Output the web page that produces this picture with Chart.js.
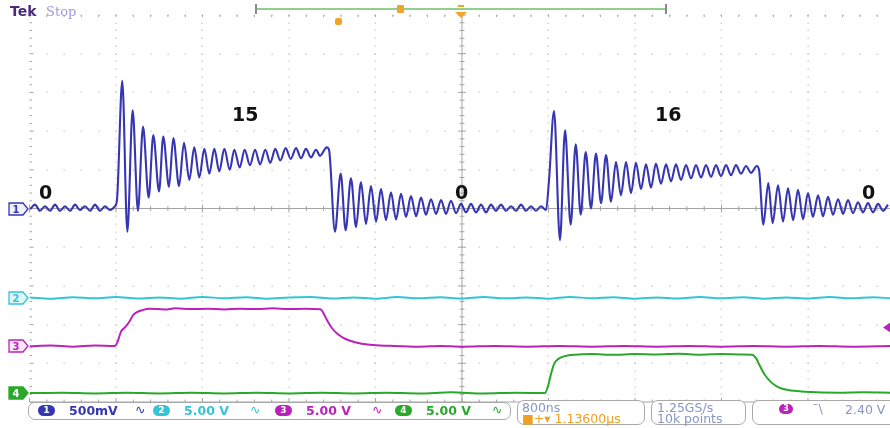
<!DOCTYPE html>
<html>
<head>
<meta charset="utf-8">
<script src="https://cdn.jsdelivr.net/npm/chart.js@4"></script>
<style>
  body { margin: 0; background: #fff; }
  #wrap { position: relative; width: 890px; height: 428px; overflow: hidden; background: #fff; font-family: "DejaVu Sans", sans-serif; }
  #scope { position: absolute; left: 0; top: 0; }
  .t { position: absolute; white-space: nowrap; line-height: 1; }
  .big { font: bold 19px "DejaVu Sans", sans-serif; color: #111; }
  .box { position: absolute; border: 1.5px solid #a9a9a9; border-radius: 7px; background: #fff; box-sizing: border-box; }
  .pill { position: absolute; width: 17px; height: 11px; border-radius: 6px; color: #fff; font: bold 9px "DejaVu Sans", sans-serif; text-align: center; line-height: 11px; }
  .st { position: absolute; white-space: nowrap; font: bold 12.5px "DejaVu Sans", sans-serif; line-height: 1; }
  .dim { color: #8796c4; font-weight: normal; }
</style>
</head>
<body>
<div id="wrap">
  <canvas id="scope" width="890" height="428"></canvas>
</div>
<script>
// ============================
// DATA
// ============================
const timePerDiv = 0.8;          // µs / div  (800ns)
const chScale = [0.5, 5, 5, 5];  // V / div
const chOffset = [0, -2.31, -3.56, -4.77]; // ground marker, in divisions
const chColor = ["#3636b2", "#35c4d6", "#bb22bb", "#2aa82a"];
const bigLabels = ["0", "15", "0", "16", "0"];

// ch1 [µs, V]
const ch1 = [
  [0.005,-0.01],[0.051,0.05],[0.097,-0.03],[0.143,0.03],[0.190,-0.03],[0.236,0.05],[0.282,-0.03],[0.328,0.03],
  [0.375,-0.03],[0.421,0.05],[0.467,-0.02],[0.513,0.03],[0.560,-0.03],[0.606,0.05],[0.652,-0.03],[0.698,0.03],
  [0.744,-0.02],[0.790,0.03],[0.809,0.11],
  [0.858,1.65],[0.905,-0.30],[0.954,1.27],[1.003,-0.03],[1.050,1.06],[1.102,0.14],[1.145,0.95],[1.198,0.22],
  [1.237,0.93],[1.290,0.28],[1.330,0.91],[1.383,0.29],[1.429,0.85],[1.478,0.37],[1.524,0.79],[1.570,0.40],
  [1.617,0.77],[1.663,0.45],[1.709,0.77],[1.755,0.48],[1.802,0.77],[1.852,0.50],[1.894,0.76],[1.944,0.53],
  [1.990,0.76],[2.039,0.56],[2.086,0.76],[2.132,0.57],[2.181,0.76],[2.227,0.59],[2.273,0.77],[2.320,0.62],
  [2.369,0.78],[2.416,0.64],[2.465,0.78],[2.511,0.65],[2.557,0.77],[2.603,0.66],[2.650,0.76],[2.687,0.68],
  [2.749,0.79],[2.770,0.76],
  [2.825,-0.30],[2.878,0.45],[2.924,-0.28],[2.973,0.39],[3.020,-0.24],[3.066,0.34],[3.112,-0.20],[3.158,0.29],
  [3.205,-0.17],[3.251,0.25],[3.297,-0.15],[3.343,0.21],[3.390,-0.14],[3.436,0.19],[3.482,-0.11],[3.528,0.16],
  [3.575,-0.10],[3.621,0.14],[3.667,-0.08],[3.713,0.12],[3.760,-0.07],[3.806,0.11],[3.852,-0.07],[3.898,0.10],
  [3.945,-0.06],[3.991,0.06],[4.037,-0.05],[4.083,0.06],[4.129,-0.05],[4.176,0.05],[4.222,-0.05],[4.268,0.05],
  [4.314,-0.03],[4.361,0.05],[4.407,-0.03],[4.453,0.03],[4.499,-0.03],[4.546,0.05],[4.592,-0.03],[4.638,0.03],
  [4.684,-0.03],[4.731,0.03],[4.777,-0.02],[4.805,0.37],
  [4.851,1.26],[4.906,-0.41],[4.953,1.01],[5.005,-0.21],[5.052,0.83],[5.098,-0.08],[5.144,0.73],[5.193,0.00],
  [5.239,0.71],[5.286,0.07],[5.332,0.69],[5.378,0.09],[5.424,0.60],[5.470,0.17],[5.517,0.60],[5.563,0.20],
  [5.609,0.59],[5.655,0.25],[5.702,0.57],[5.748,0.27],[5.794,0.58],[5.840,0.32],[5.887,0.57],[5.933,0.35],
  [5.979,0.57],[6.025,0.37],[6.072,0.56],[6.118,0.39],[6.164,0.56],[6.210,0.40],[6.257,0.56],[6.303,0.41],
  [6.349,0.56],[6.395,0.42],[6.442,0.56],[6.488,0.43],[6.534,0.56],[6.580,0.45],[6.627,0.55],[6.673,0.46],
  [6.726,0.55],[6.747,0.50],
  [6.787,-0.21],[6.833,0.33],[6.873,-0.19],[6.923,0.30],[6.969,-0.17],[7.015,0.26],[7.062,-0.15],[7.108,0.24],
  [7.154,-0.14],[7.200,0.20],[7.246,-0.11],[7.293,0.17],[7.339,-0.10],[7.385,0.15],[7.431,-0.08],[7.478,0.12],
  [7.524,-0.07],[7.570,0.11],[7.616,-0.06],[7.663,0.08],[7.709,-0.05],[7.755,0.07],[7.801,-0.05],[7.848,0.06],
  [7.894,-0.03],[7.940,0.05]
];

// ch2 [µs, V] - flat, just noise
const ch2 = [
  [0,0.05],[0.2,-0.1],[0.4,0.08],[0.6,-0.05],[0.8,0.1],[1.0,-0.08],[1.2,0.05],[1.4,-0.1],[1.6,0.12],[1.8,-0.05],
  [2.0,0.08],[2.2,-0.1],[2.4,0.05],[2.6,0.1],[2.8,-0.08],[3.0,0.05],[3.2,-0.1],[3.4,0.1],[3.6,-0.05],[3.8,0.08],
  [4.0,-0.08],[4.2,0.1],[4.4,-0.05],[4.6,0.05],[4.8,-0.1],[5.0,0.12],[5.2,-0.05],[5.4,0.08],[5.6,-0.1],[5.8,0.05],
  [6.0,-0.08],[6.2,0.1],[6.4,-0.05],[6.6,0.08],[6.8,-0.1],[7.0,0.05],[7.2,-0.08],[7.4,0.1],[7.6,-0.05],[7.8,0.08],
  [7.96,-0.05]
];

// ch3 [µs, V]
const ch3 = [
  [0,0],[0.2,0.1],[0.4,-0.05],[0.6,0.1],[0.79,0.05],[0.82,0.8],[0.846,1.9],[0.883,2.45],[0.92,3.1],[0.957,4.0],
  [0.994,4.4],[1.04,4.65],[1.11,4.85],[1.25,4.75],[1.35,4.9],[1.5,4.8],[1.65,4.85],[1.8,4.75],[1.95,4.85],
  [2.1,4.8],[2.25,4.9],[2.4,4.8],[2.55,4.85],[2.69,4.78],[2.714,4.4],[2.752,3.36],[2.798,2.33],[2.853,1.55],
  [2.918,0.97],[3.01,0.52],[3.149,0.19],[3.334,0.06],[3.6,-0.05],[3.8,0.05],[4.0,-0.05],[4.3,0.05],[4.6,-0.05],
  [4.9,0.05],[5.2,-0.05],[5.5,0.05],[5.8,-0.05],[6.1,0.05],[6.4,-0.05],[6.7,0.05],[7.0,-0.05],[7.3,0.05],
  [7.6,-0.05],[7.96,0.05]
];

// ch4 [µs, V]
const ch4 = [
  [0,0],[0.3,0.05],[0.6,-0.05],[0.9,0.05],[1.2,-0.05],[1.5,0.05],[1.8,-0.05],[2.1,0.05],[2.4,-0.05],[2.7,0.05],
  [3.0,-0.05],[3.3,0.05],[3.6,-0.05],[3.9,0.1],[4.2,-0.05],[4.5,0.05],[4.768,0],[4.795,0.9],[4.823,2.45],
  [4.851,3.75],[4.888,4.39],[4.953,4.78],[5.045,4.97],[5.2,5.05],[5.4,4.95],[5.6,5.05],[5.8,5.0],[6.0,5.08],
  [6.2,4.97],[6.4,5.05],[6.6,5.0],[6.682,4.97],[6.719,4.52],[6.756,3.49],[6.802,2.33],[6.858,1.42],[6.923,0.78],
  [7.015,0.39],[7.172,0.19],[7.496,0.06],[7.7,0.1],[7.96,0.06]
];

// ============================
// GRATICULE
// ============================
const graticule = {
  id: "graticule",
  beforeDatasetsDraw(chart) {
    const { ctx, chartArea: a, scales: { x, y } } = chart;
    ctx.save();
    ctx.fillStyle = "#c6c6c6";
    // dotted major lines
    for (let i = 1; i < 10; i++) {
      if (i === 5) continue;
      const px = Math.round(x.getPixelForValue(i * timePerDiv));
      for (let m = -24; m <= 25; m++) {
        ctx.fillRect(px - 0.5, Math.round(y.getPixelForValue(m / 5)) - 0.5, 1.3, 1.3);
      }
    }
    for (let j = -4; j <= 5; j++) {
      if (j === 0) continue;
      const py = Math.round(y.getPixelForValue(j));
      for (let m = 1; m <= 50; m++) {
        ctx.fillRect(Math.round(x.getPixelForValue(m * timePerDiv / 5)) - 0.5, py - 0.5, 1.3, 1.3);
      }
    }
    // center cross + bottom edge, with minor ticks
    const cx = x.getPixelForValue(5 * timePerDiv), cy = y.getPixelForValue(0);
    ctx.strokeStyle = "#a4a4a4";
    ctx.lineWidth = 1;
    ctx.beginPath();
    ctx.moveTo(a.left, cy); ctx.lineTo(a.right, cy);
    ctx.moveTo(cx, a.top); ctx.lineTo(cx, a.bottom);
    ctx.moveTo(a.left, a.bottom); ctx.lineTo(a.right, a.bottom);
    for (let m = 0; m <= 50; m++) {
      const px = x.getPixelForValue(m * timePerDiv / 5);
      const h = m % 5 === 0 ? 4 : 2.5;
      ctx.moveTo(px, cy - h); ctx.lineTo(px, cy + h);
      ctx.moveTo(px, a.bottom); ctx.lineTo(px, a.bottom - h);
      ctx.moveTo(px, a.top); ctx.lineTo(px, a.top + 2);
    }
    for (let m = -25; m <= 25; m++) {
      const py = y.getPixelForValue(m / 5);
      const w = m % 5 === 0 ? 4 : 2.5;
      ctx.moveTo(cx - w, py); ctx.lineTo(cx + w, py);
      ctx.moveTo(a.left, py); ctx.lineTo(a.left + w, py);
    }
    ctx.stroke();
    ctx.restore();
  }
};

// ============================
// CHART
// ============================
function toScreen(points, ch) {
  return points.map(([t, v]) => ({ x: t, y: chOffset[ch] + v / chScale[ch] }));
}

const traces = [ch1, ch2, ch3, ch4];

new Chart(document.getElementById("scope"), {
  type: "line",
  data: {
    datasets: traces.map((pts, i) => ({
      data: toScreen(pts, i),
      borderColor: chColor[i],
      borderWidth: i === 0 ? 2.1 : 2,
      pointRadius: 0,
      cubicInterpolationMode: "monotone",
      order: 4 - i
    }))
  },
  options: {
    responsive: false,
    animation: false,
    events: [],
    layout: { padding: { left: 29.5, top: 15, right: 0, bottom: 26 } },
    plugins: { legend: { display: false }, tooltip: { enabled: false } },
    scales: {
      x: { type: "linear", display: false, min: 0, max: 10 * timePerDiv * 0.9948 },
      y: { type: "linear", display: false, min: -5, max: 5 }
    }
  },
  plugins: [graticule]
});

// ============================
// SCREEN TEXT / MARKERS
// ============================
const wrap = document.getElementById("wrap");
function add(html) { wrap.insertAdjacentHTML("beforeend", html); }

// top bar
add(`<div class="t" style="left:10px;top:3px;font:bold 14px 'DejaVu Sans';color:#4a2a7c">Tek</div>`);
add(`<div class="t" style="left:46px;top:4px;font:13px 'DejaVu Serif';color:#9a9ae0">Stop</div>`);
add(`<div style="position:absolute;left:256px;top:8px;width:410px;height:1.5px;background:#8fd08f"></div>`);
add(`<div style="position:absolute;left:255px;top:4px;width:2px;height:10px;background:#8a8a8a"></div>`);
add(`<div style="position:absolute;left:665px;top:4px;width:2px;height:10px;background:#8a8a8a"></div>`);
add(`<div style="position:absolute;left:397px;top:5px;width:7px;height:8px;background:#f0a52a;border-radius:1px"></div>`);
add(`<div style="position:absolute;left:335px;top:18px;width:7px;height:7px;background:#f0a52a;border-radius:2px"></div>`);
add(`<div style="position:absolute;left:458px;top:5px;width:6px;height:1.5px;background:#f0a52a"></div>`);
add(`<svg style="position:absolute;left:455px;top:12px" width="12" height="7"><polygon points="0,0 12,0 6,6" fill="#f0a52a"/></svg>`);

// channel ground markers
const chY = chOffset.map(o => 208.5 - o * 38.7);
const markerStyle = [
  { fill: "#eef0ff", stroke: "#3636b2", text: "#3636b2" },
  { fill: "#dff6f9", stroke: "#35c4d6", text: "#35c4d6" },
  { fill: "#fbe6fb", stroke: "#bb22bb", text: "#bb22bb" },
  { fill: "#2aa82a", stroke: "#2aa82a", text: "#ffffff" }
];
markerStyle.forEach((s, i) => {
  add(`<svg style="position:absolute;left:8px;top:${chY[i] - 7}px" width="22" height="14">
    <path d="M1,1 H15 L20,7 L15,13 H1 Z" fill="${s.fill}" stroke="${s.stroke}" stroke-width="1.3"/>
    <text x="8" y="11" text-anchor="middle" font-family="DejaVu Sans" font-weight="bold" font-size="10" fill="${s.text}">${i + 1}</text>
  </svg>`);
});
// trigger level arrow (right)
add(`<svg style="position:absolute;left:883px;top:322px" width="8" height="11"><polygon points="0,5.5 8,0 8,11" fill="#bb22bb"/></svg>`);

// big state labels
const bigPos = [[39, 181], [232, 103], [455, 181], [655, 103], [862, 181]];
bigLabels.forEach((s, i) => add(`<div class="t big" style="left:${bigPos[i][0]}px;top:${bigPos[i][1]}px">${s}</div>`));

// status bar
add(`<div class="box" style="left:28px;top:402px;width:483px;height:18px"></div>`);
add(`<div class="box" style="left:517px;top:400px;width:128px;height:25px"></div>`);
add(`<div class="box" style="left:651px;top:400px;width:95px;height:25px"></div>`);
add(`<div class="box" style="left:752px;top:400px;width:150px;height:25px"></div>`);

const chText = ["500mV", "5.00 V", "5.00 V", "5.00 V"];
const pillX = [38, 153, 275, 395];
chText.forEach((s, i) => {
  const x0 = pillX[i];
  add(`<div class="pill" style="left:${x0}px;top:405px;background:${chColor[i]}">${i + 1}</div>`);
  add(`<div class="st" style="left:${x0 + 31}px;top:405px;color:${chColor[i]}">${s}</div>`);
  add(`<div class="st" style="left:${x0 + 97}px;top:404px;color:${chColor[i]};font-weight:normal">∿</div>`);
});
add(`<div class="st dim" style="left:522px;top:402px">800ns</div>`);
add(`<div class="st" style="left:522px;top:413px;color:#f0a020;font-weight:normal">■+▾ 1.13600µs</div>`);
add(`<div class="st dim" style="left:657px;top:402px">1.25GS/s</div>`);
add(`<div class="st dim" style="left:657px;top:413px">10k points</div>`);
add(`<div class="pill" style="left:779px;top:404px;width:14px;height:10px;line-height:10px;font-size:8px;background:#bb22bb">3</div>`);
add(`<div class="st dim" style="left:812px;top:402px;font-size:13px">ˉ\\</div>`);
add(`<div class="st dim" style="left:845px;top:404px">2.40 V</div>`);
</script>
</body>
</html>
